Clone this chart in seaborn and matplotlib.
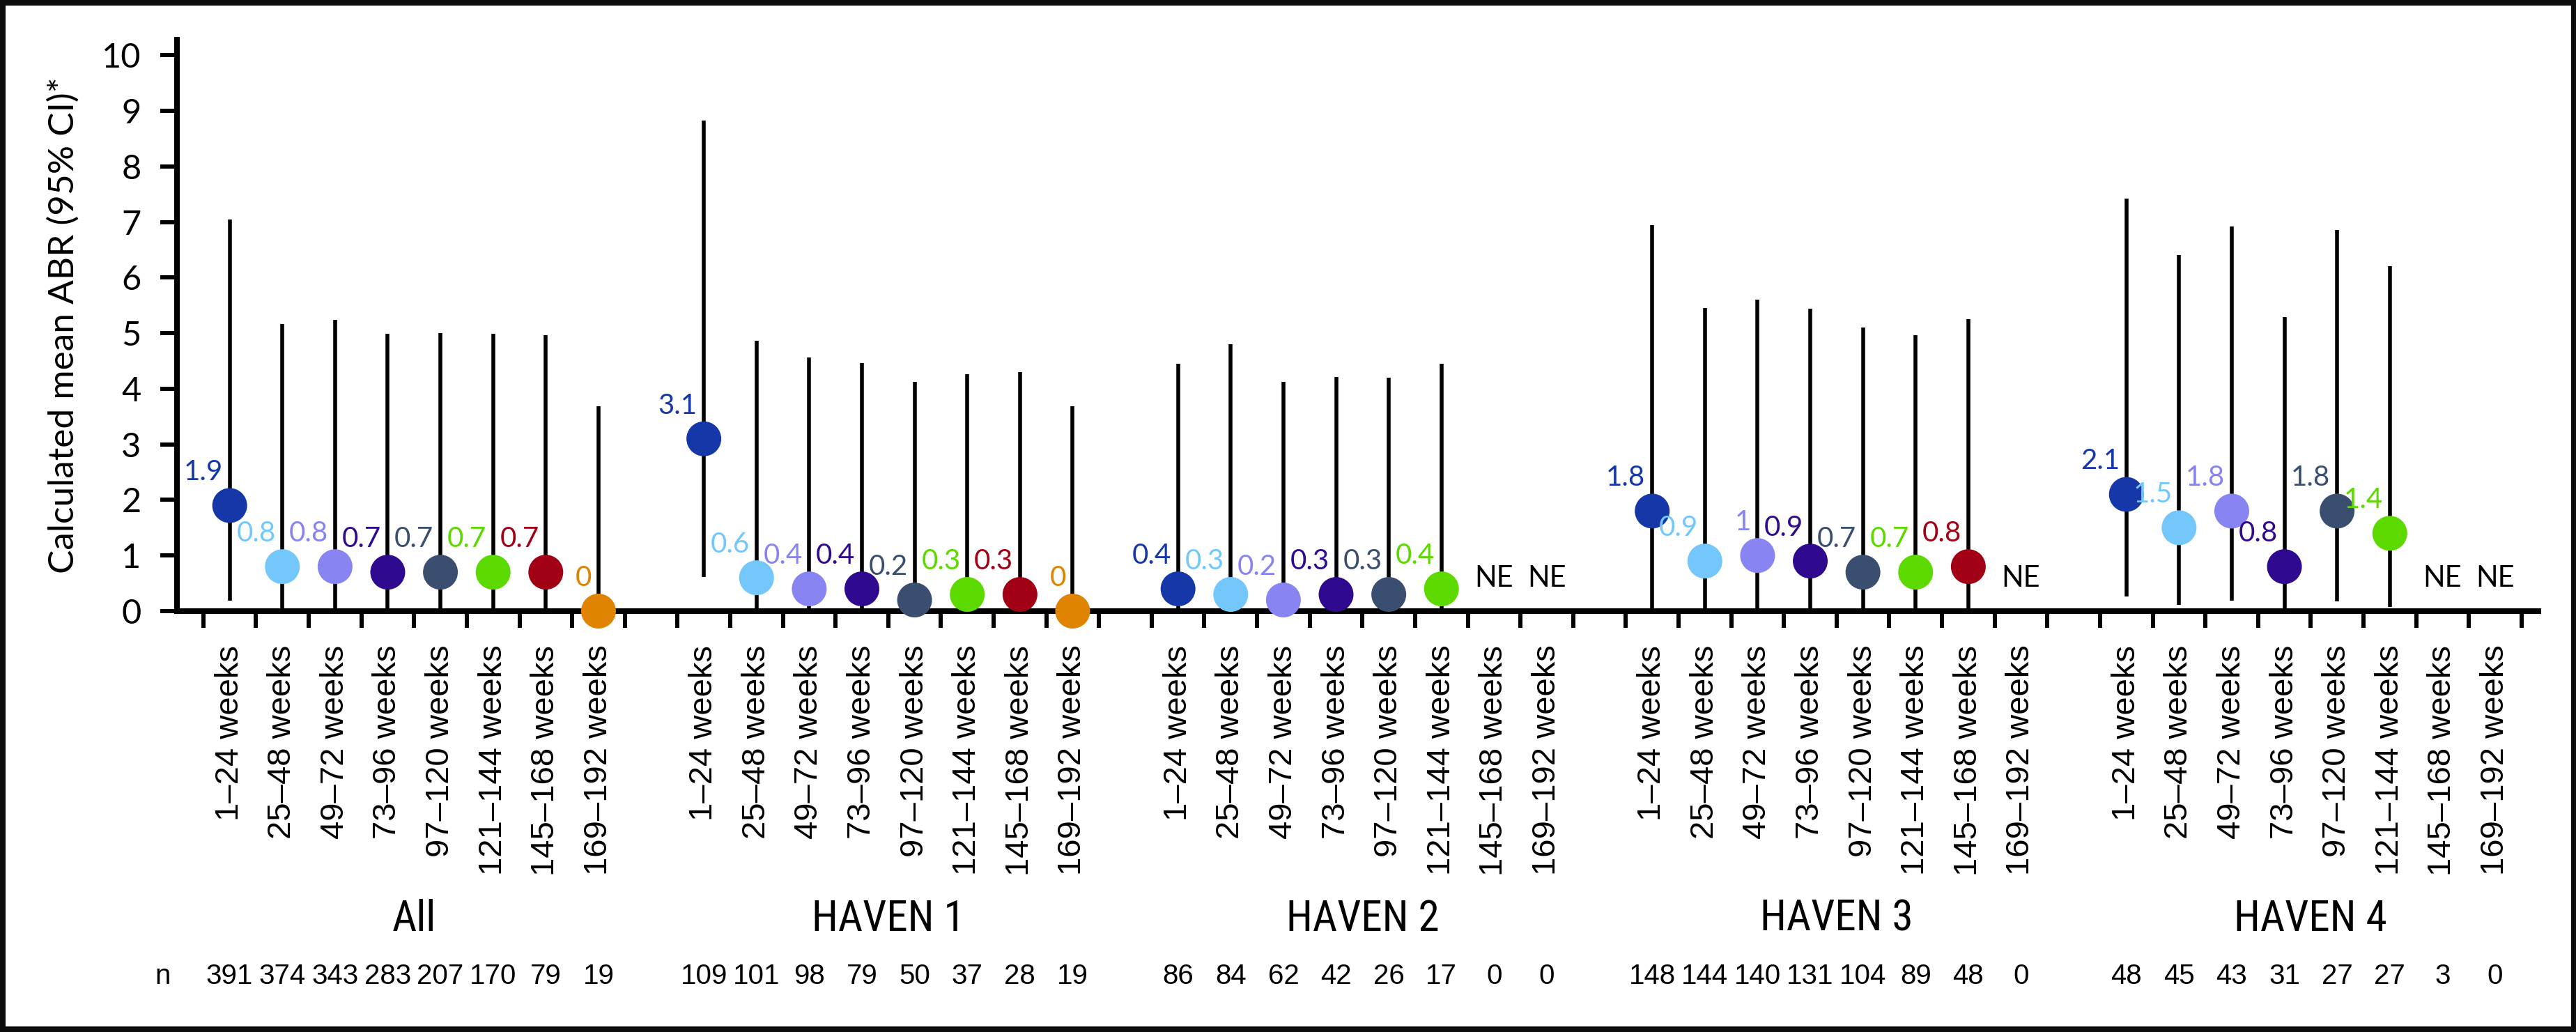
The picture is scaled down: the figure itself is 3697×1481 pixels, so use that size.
import numpy as np
import pandas as pd
import matplotlib
matplotlib.use("Agg")
import matplotlib.pyplot as plt
import seaborn as sns
from matplotlib import font_manager as fm
from matplotlib.transforms import blended_transform_factory
from matplotlib.patches import Rectangle

# ---------------- data ----------------
groups = ["All", "HAVEN 1", "HAVEN 2", "HAVEN 3", "HAVEN 4"]
periods = ["1–24 weeks", "25–48 weeks", "49–72 weeks", "73–96 weeks",
           "97–120 weeks", "121–144 weeks", "145–168 weeks", "169–192 weeks"]
period_colors = ["#1537A8", "#74C7FB", "#8885F2", "#2F0A8E",
                 "#3A4E70", "#5CDA00", "#A10015", "#E08300"]

nan = np.nan
mean_all = [1.9, 0.8, 0.8, 0.7, 0.7, 0.7, 0.7, 0]
mean_h1 = [3.1, 0.6, 0.4, 0.4, 0.2, 0.3, 0.3, 0]
mean_h2 = [0.4, 0.3, 0.2, 0.3, 0.3, 0.4, nan, nan]
mean_h3 = [1.8, 0.9, 1.0, 0.9, 0.7, 0.7, 0.8, nan]
mean_h4 = [2.1, 1.5, 1.8, 0.8, 1.8, 1.4, nan, nan]

upper_all = [7.05, 5.16, 5.24, 4.99, 5.0, 4.99, 4.97, 3.68]
upper_h1 = [8.83, 4.87, 4.56, 4.46, 4.13, 4.26, 4.30, 3.68]
upper_h2 = [4.45, 4.80, 4.12, 4.21, 4.20, 4.45, nan, nan]
upper_h3 = [6.95, 5.45, 5.60, 5.44, 5.10, 4.97, 5.25, nan]
upper_h4 = [7.42, 6.41, 6.92, 5.29, 6.86, 6.20, nan, nan]

lower_all = [0.19, 0, 0, 0, 0, 0, 0, 0]
lower_h1 = [0.62, 0, 0, 0, 0, 0, 0, 0]
lower_h2 = [0, 0, 0, 0, 0, 0, nan, nan]
lower_h3 = [0, 0, 0, 0, 0, 0, 0, nan]
lower_h4 = [0.26, 0.11, 0.19, 0, 0.17, 0.08, nan, nan]

n_all = [391, 374, 343, 283, 207, 170, 79, 19]
n_h1 = [109, 101, 98, 79, 50, 37, 28, 19]
n_h2 = [86, 84, 62, 42, 26, 17, 0, 0]
n_h3 = [148, 144, 140, 131, 104, 89, 48, 0]
n_h4 = [48, 45, 43, 31, 27, 27, 3, 0]

means = [mean_all, mean_h1, mean_h2, mean_h3, mean_h4]
uppers = [upper_all, upper_h1, upper_h2, upper_h3, upper_h4]
lowers = [lower_all, lower_h1, lower_h2, lower_h3, lower_h4]
ns = [n_all, n_h1, n_h2, n_h3, n_h4]

rows = []
step = len(periods) + 1
for g, gname in enumerate(groups):
    for p, per in enumerate(periods):
        rows.append(dict(group=gname, period=per, pos=g * step + p,
                         mean=means[g][p], lo=lowers[g][p], hi=uppers[g][p],
                         n=ns[g][p]))
df = pd.DataFrame(rows)

# ---------------- style ----------------
sns.set_theme(style="white")
names = {f.name for f in fm.fontManager.ttflist}
main_font = "Lato" if "Lato" in names else "DejaVu Sans"
arial = "Liberation Sans" if "Liberation Sans" in names else "DejaVu Sans"
narrow = arial
narrow_stretch = "normal"
for cand in ["Liberation Sans Narrow", "Arial Narrow", "Roboto Condensed",
             "Open Sans Condensed", "DejaVu Sans Condensed"]:
    if cand in names:
        narrow = cand
        break
else:
    for f in fm.fontManager.ttflist:
        if str(f.stretch) in ("condensed", "semi-condensed") and f.name in (arial, "DejaVu Sans", "Roboto", "Open Sans", "Noto Sans"):
            narrow = f.name
            narrow_stretch = f.stretch
            break
plt.rcParams["font.family"] = [main_font, "DejaVu Sans"]

fig = plt.figure(figsize=(36.98, 14.81), dpi=100)
ax = fig.add_axes([0.06869, 0.40783, 0.91644, 0.55368])

valid = df.dropna(subset=["mean"])
ax.vlines(valid["pos"], valid["lo"], valid["hi"], color="black", lw=4, zorder=2)
sns.scatterplot(data=valid, x="pos", y="mean", hue="period", hue_order=periods,
                palette=dict(zip(periods, period_colors)), s=1296,
                edgecolor="none", linewidth=0, legend=False, zorder=4,
                clip_on=False, ax=ax)

color_map = dict(zip(periods, period_colors))
for _, r in valid.iterrows():
    ax.annotate(f"{r['mean']:g}", (r["pos"], r["mean"]), xytext=(-7, 21),
                textcoords="offset points", ha="right", va="bottom",
                fontsize=29, color=color_map[r["period"]], family=main_font,
                zorder=5, annotation_clip=False)

for _, r in df[df["mean"].isna()].iterrows():
    ax.text(r["pos"], 0.59, "NE", ha="center", va="center", fontsize=30,
            color="black", family=main_font)

ax.set_xlim(-1.0, 43.82)
ax.set_ylim(0, 10.28)
ax.set_yticks(range(0, 11))
ax.set_xticks(np.arange(-0.5, len(df) + len(groups) - 1, 1.0))
ax.set_xticklabels([])
ax.set_xticks(df["pos"], df["period"], minor=True)
ax.tick_params(axis="x", which="major", length=17, width=4.3, direction="out",
               bottom=True, color="black")
ax.tick_params(axis="x", which="minor", length=0, pad=35, labelsize=34,
               labelrotation=90, bottom=True, labelcolor="black")
for lbl in ax.get_xticklabels(minor=True):
    lbl.set_fontfamily(arial)
ax.tick_params(axis="y", length=17, width=4.3, pad=20, labelsize=35,
               left=True, color="black", labelcolor="black")

for side in ["top", "right"]:
    ax.spines[side].set_visible(False)
for side in ["left", "bottom"]:
    ax.spines[side].set_linewidth(5.8)
    ax.spines[side].set_color("black")

ax.set_xlabel("")
ax.set_ylabel("Calculated mean ABR (95% CI)*", fontsize=37, color="black")
ax.yaxis.set_label_coords(-0.041, 0.5)

trans = blended_transform_factory(ax.transData, fig.transFigure)
grp_size = 44 if narrow != arial else 38
for g, gname in enumerate(groups):
    ax.text(g * step + (len(periods) - 1) / 2, 0.1094, gname, transform=trans,
            ha="center", va="center", fontsize=grp_size, family=narrow,
            fontstretch=narrow_stretch, color="black")
ax.text(-1.27, 0.054, "n", transform=trans, ha="center", va="center",
        fontsize=29, family=arial, color="black")
for _, r in df.iterrows():
    ax.text(r["pos"], 0.054, str(r["n"]), transform=trans, ha="center",
            va="center", fontsize=29, family=arial, color="black")

fig.add_artist(Rectangle((0, 0), 1, 1, transform=fig.transFigure, fill=False,
                         edgecolor="#0d0d0d", linewidth=11.5, zorder=10))

fig.savefig("out.png", dpi=100)
